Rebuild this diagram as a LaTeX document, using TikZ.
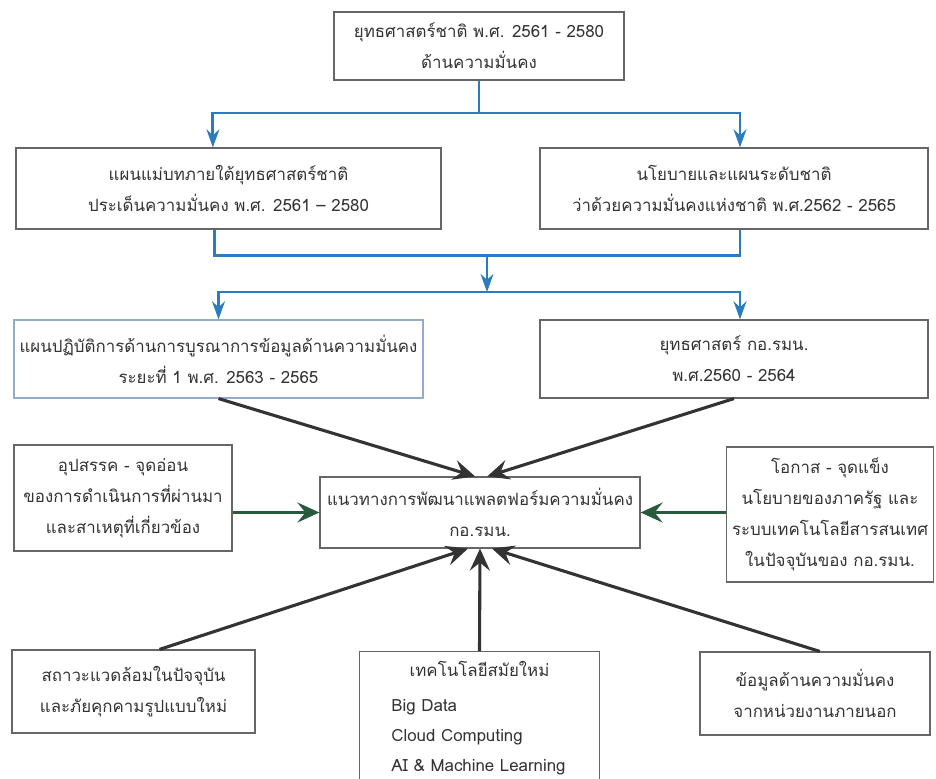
\documentclass[tikz,border=0pt]{standalone}
\usepackage{fontspec}
\newfontfamily\thaifont[Script=Thai]{Loma}
\usetikzlibrary{arrows.meta}

\tikzset{
  box/.style={draw=gray!80!black,line width=.8pt,fill=white,align=center,inner sep=4pt,
    font={\thaifont\fontsize{12}{22}\selectfont},text=black!80},
  flow/.style={draw={rgb,255:red,42;green,123;blue,191},line width=2pt},
  flowtip/.style={flow,-{Stealth[length=4.5mm,width=3.2mm]}},
  push/.style={draw=black!80,line width=2.2pt,-{Stealth[length=5.5mm,width=5mm,inset=2mm]}},
  sidepush/.style={draw={rgb,255:red,40;green,90;blue,62},line width=2.2pt,-{Stealth[length=5.5mm,width=5mm,inset=2mm]}}
}

\begin{document}
\begin{tikzpicture}[x=0.025cm,y=-0.025cm]
\useasboundingbox[fill=white] (0,0) rectangle (936,778);
\node[box,minimum width=7.25cm,minimum height=1.7cm] (strategy) at (479,46) {ยุทธศาสตร์ชาติ พ.ศ. 2561 - 2580\\ด้านความมั่นคง};
\node[box,minimum width=10.625cm,minimum height=2.025cm] (masterplan) at (228.5,188.5) {แผนแม่บทภายใต้ยุทธศาสตร์ชาติ\\ประเด็นความมั่นคง พ.ศ. 2561 – 2580};
\node[box,minimum width=9.7cm,minimum height=2.025cm] (policy) at (734,188.5) {นโยบายและแผนระดับชาติ\\ว่าด้วยความมั่นคงแห่งชาติ พ.ศ.2562 - 2565};
\node[box,draw={rgb,255:red,150;green,170;blue,205},minimum width=10.075cm,minimum height=1.95cm] (actionplan) at (218.5,359) {แผนปฏิบัติการด้านการบูรณาการข้อมูลด้านความมั่นคง\\ระยะที่ 1 พ.ศ. 2563 - 2565};
\node[box,minimum width=9.7cm,minimum height=1.95cm] (nscstrategy) at (734,359) {ยุทธศาสตร์ กอ.รมน.\\พ.ศ.2560 - 2564};
\node[box,minimum width=8cm,minimum height=1.775cm] (platform) at (480,512.5) {แนวทางการพัฒนาแพลตฟอร์มความมั่นคง\\กอ.รมน.};
\node[box,minimum width=5.45cm,minimum height=2.65cm] (weakness) at (123,498) {อุปสรรค - จุดอ่อน\\ของการดำเนินการที่ผ่านมา\\และสาเหตุที่เกี่ยวข้อง};
\node[box,minimum width=5cm,minimum height=3.375cm] (strength) at (830,514.5) {โอกาส - จุดแข็ง\\นโยบายของภาครัฐ และ\\ระบบเทคโนโลยีสารสนเทศ\\ในปัจจุบันของ กอ.รมน.};
\node[box,minimum width=6.075cm,minimum height=2.075cm] (threat) at (133.5,691.5) {สถาวะแวดล้อมในปัจจุบัน\\และภัยคุกคามรูปแบบใหม่};
\node[box,anchor=north,align=left,text width=5.7cm,minimum height=3.35cm,inner ysep=0pt,
  font={\thaifont\fontsize{12}{21.5}\selectfont}] (tech) at (479.5,651) {\makebox[\linewidth]{เทคโนโลยีสมัยใหม่}\\[3pt]\hspace*{.65cm}Big Data\\\hspace*{.65cm}Cloud Computing\\\hspace*{.65cm}AI \& Machine Learning};
\node[box,minimum width=5.75cm,minimum height=2.075cm] (outside) at (815,693.5) {ข้อมูลด้านความมั่นคง\\จากหน่วยงานภายนอก};

\coordinate (split1) at (479,113);
\coordinate (join2) at (487,255);
\coordinate (split3) at (487,292);
\draw[flow] (strategy.south) -- (split1);
\draw[flowtip] (split1) -| ([xshift=-0.39cm]masterplan.north);
\draw[flowtip] (split1) -| ([xshift=0.15cm]policy.north);
\draw[flow] ([xshift=-0.35cm]masterplan.south) -- ++(0,26) -| ([xshift=0.15cm]policy.south);
\draw[flowtip] (join2) -- (split3);
\draw[flowtip] (split3) -| (actionplan.north);
\draw[flowtip] (split3) -| ([xshift=0.15cm]nscstrategy.north);

\draw[push] (actionplan.south) -- ([xshift=-0.12cm]platform.north);
\draw[push] (nscstrategy.south) -- ([xshift=0.18cm]platform.north);
\draw[push] ([xshift=0.65cm]threat.north) -- ([xshift=-0.3cm]platform.south);
\draw[push] (tech.north) -- (platform.south);
\draw[push] ([xshift=0.12cm]outside.north) -- ([xshift=0.3cm]platform.south);
\draw[sidepush] (weakness.east |- platform.west) -- (platform.west);
\draw[sidepush] (strength.west |- platform.east) -- (platform.east);
\end{tikzpicture}
\end{document}
